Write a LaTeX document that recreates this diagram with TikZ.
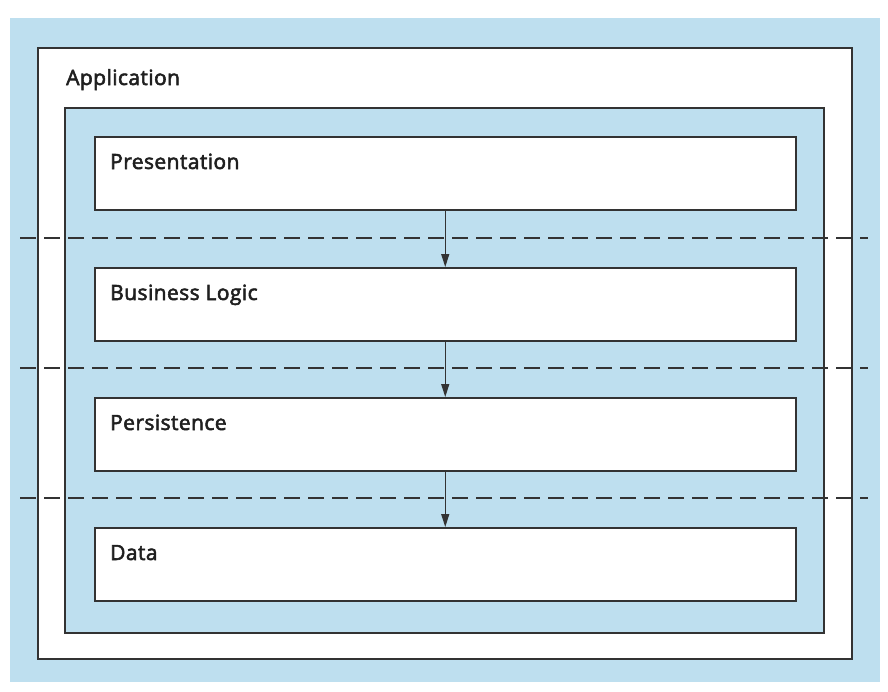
\documentclass[tikz,border=0pt]{standalone}
\usepackage{fontspec}
\setmainfont{Open Sans}
\newfontfamily\lblfont{Open Sans}[FakeBold=2.6, LetterSpace=2]
\usetikzlibrary{arrows.meta}
\definecolor{bg}{HTML}{BEDFEF}
\definecolor{ln}{HTML}{333333}
\begin{document}
\begin{tikzpicture}[x=1pt,y=-1pt,
  frame/.style={draw=ln, line width=1.5pt, inner sep=0pt, anchor=north west},
  layerbox/.style={frame, fill=white, minimum width=701pt, minimum height=73pt},
  lbl/.style={anchor=base west, inner sep=0pt, text=black!88, font=\lblfont\fontsize{21}{25}\selectfont},
  sep/.style={draw=ln, line width=1.4pt, dash pattern=on 16pt off 8pt},
  flow/.style={draw=ln, line width=1.2pt, -{Triangle[length=13pt,width=8pt]}}]
\useasboundingbox (0,0) rectangle (888,691);
\fill[white] (0,0) rectangle (888,691);
\fill[bg] (10,18) rectangle (880,682);
\node[frame, fill=white, minimum width=814pt, minimum height=611pt] (app) at (37,47) {};
\node[frame, fill=bg, minimum width=759pt, minimum height=525pt] (inner) at (64,107) {};
\node[lbl] (tapp) at (66,85) {Application};
\node[layerbox] (pres) at (94,136) {};
\node[layerbox] (bl) at (94,267) {};
\node[layerbox] (pers) at (94,397) {};
\node[layerbox] (data) at (94,527) {};
\node[lbl] (tpres) at (110,169) {Presentation};
\node[lbl] (tbl) at (110,300) {Business Logic};
\node[lbl] (tpers) at (110,430) {Persistence};
\node[lbl] (tdata) at (110,560) {Data};
\coordinate (d1l) at (20,238); \coordinate (d1r) at (868,238);
\coordinate (d2l) at (20,368); \coordinate (d2r) at (868,368);
\coordinate (d3l) at (20,498); \coordinate (d3r) at (868,498);
\draw[sep] (d1l) -- (d1r);
\draw[sep] (d2l) -- (d2r);
\draw[sep] (d3l) -- (d3r);
\draw[flow] (pres.south) -- (bl.north);
\draw[flow] (bl.south) -- (pers.north);
\draw[flow] (pers.south) -- (data.north);
\end{tikzpicture}
\end{document}
